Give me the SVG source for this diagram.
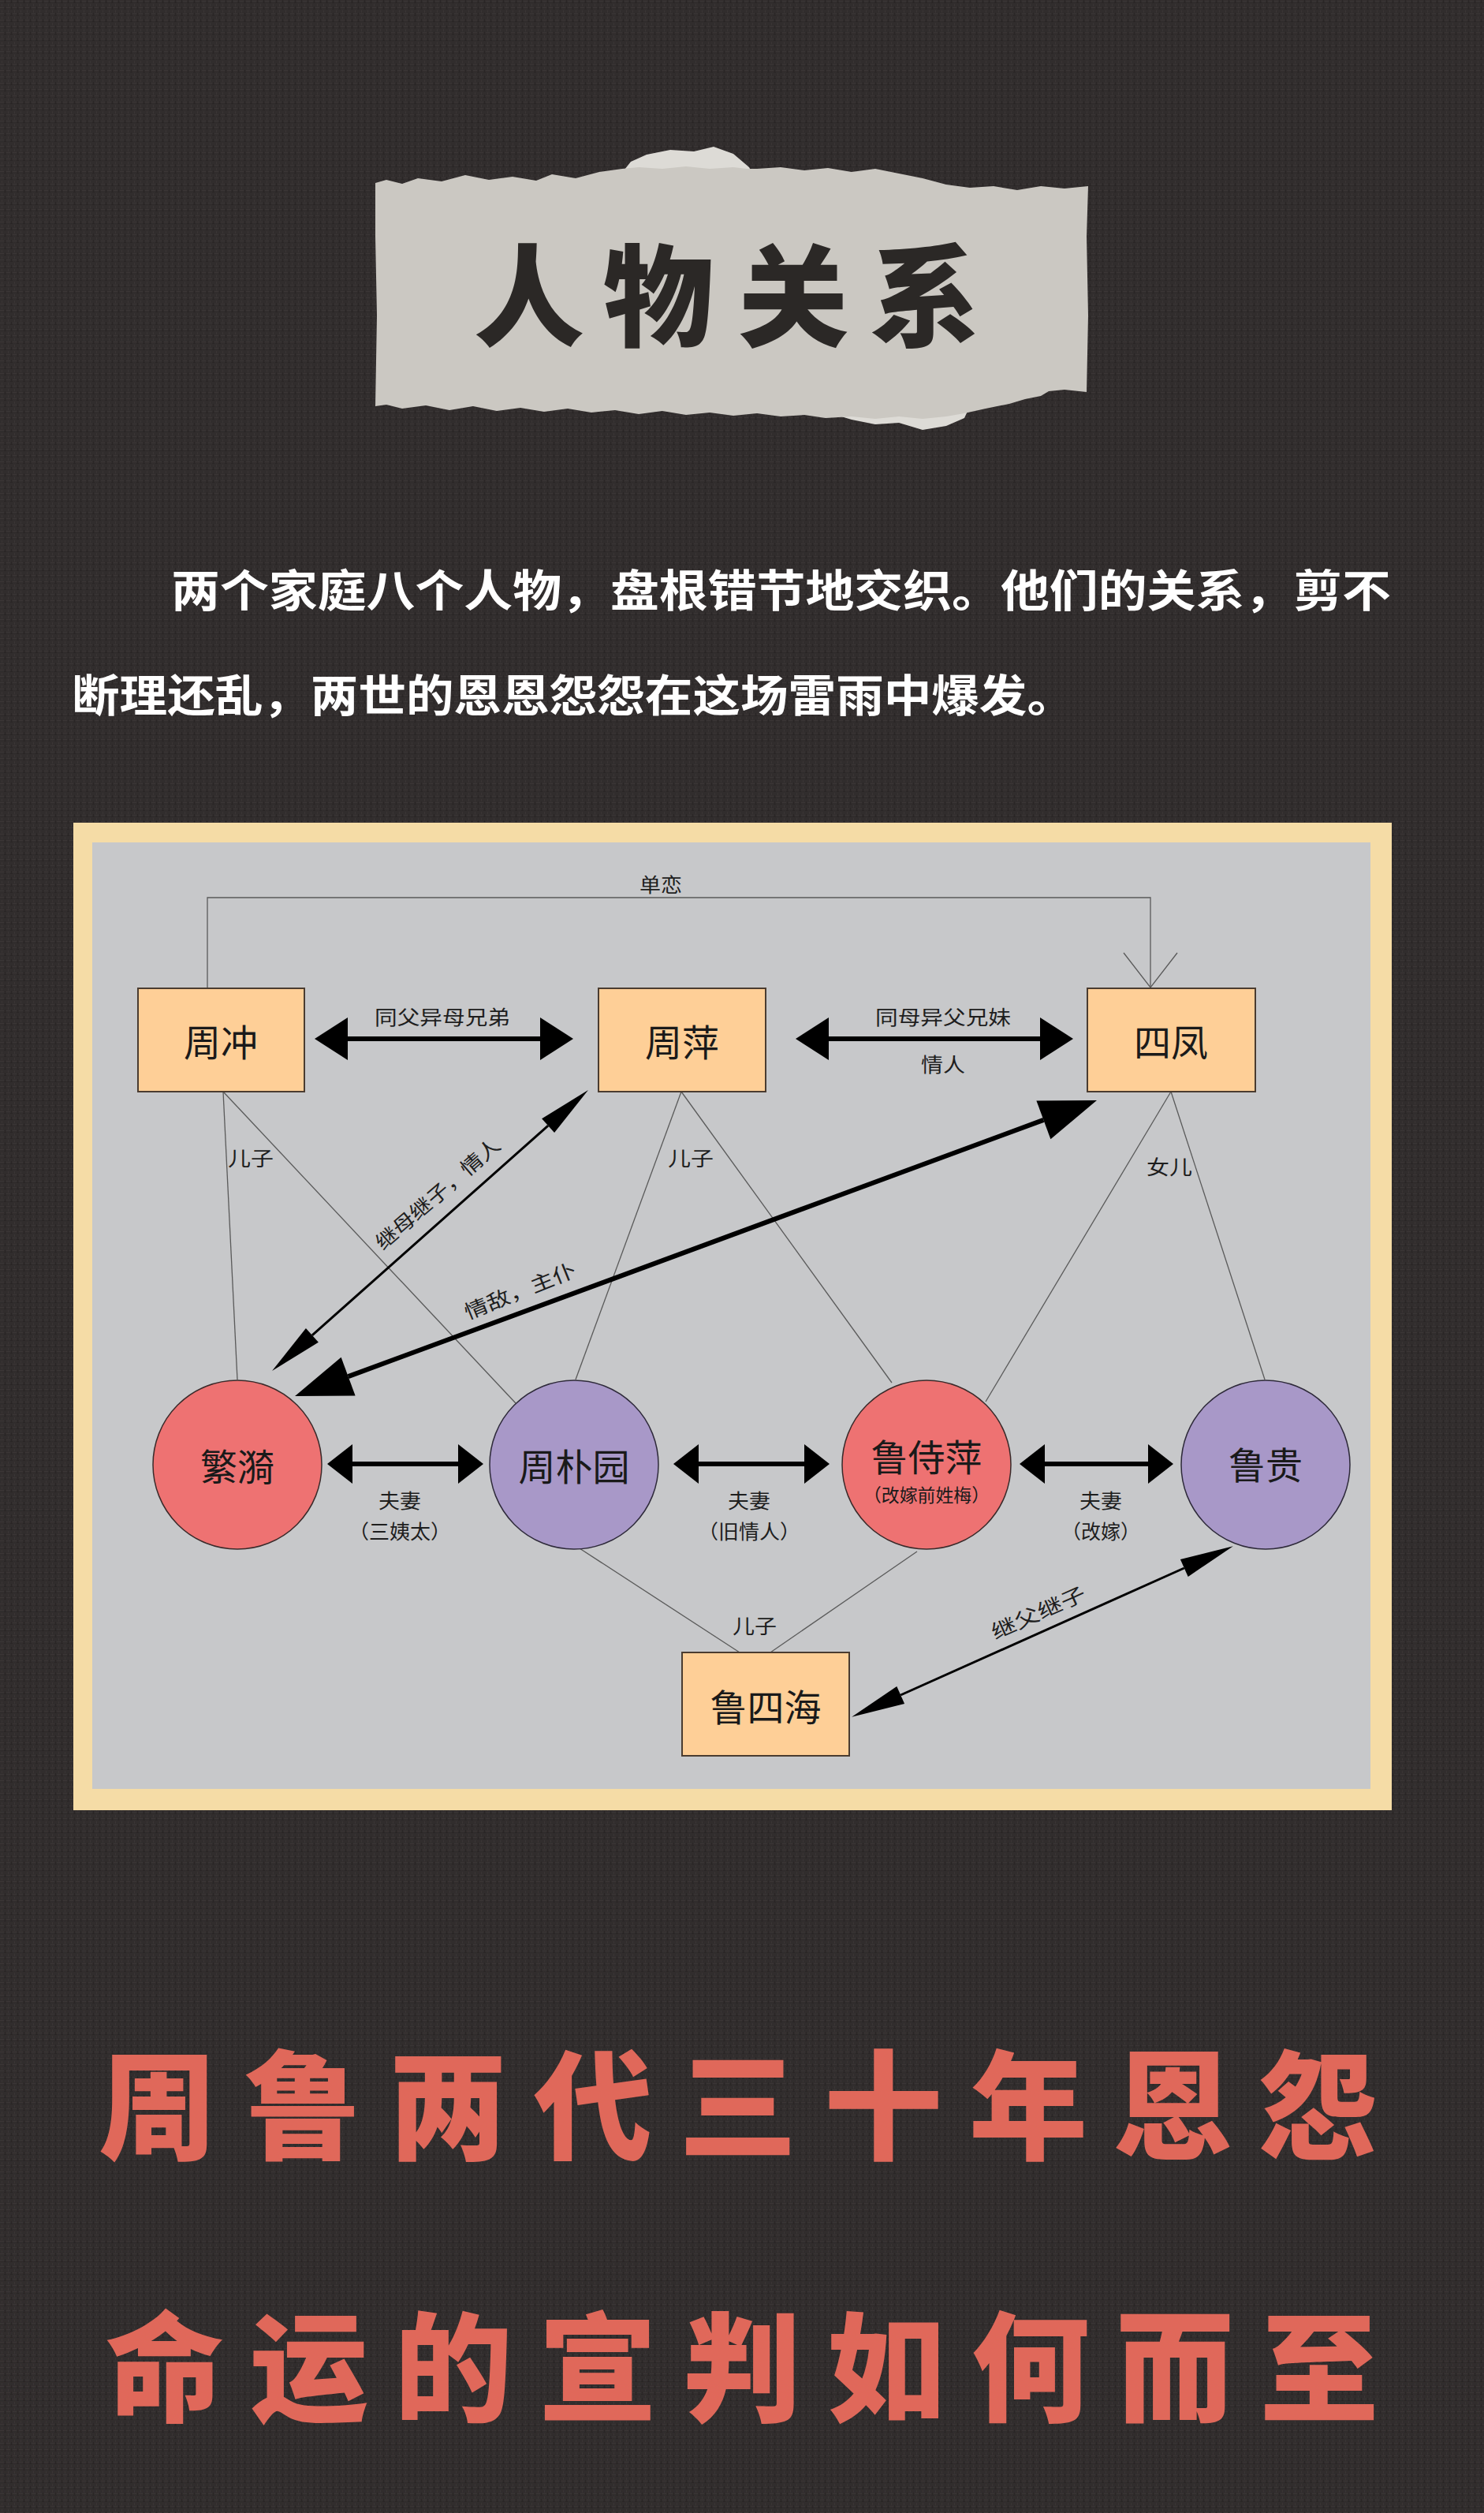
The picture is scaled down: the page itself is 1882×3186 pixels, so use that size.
<svg xmlns="http://www.w3.org/2000/svg" width="1882" height="3186" viewBox="0 0 1882 3186">
<defs>
<style>
.cjk{font-family:"Noto Sans CJK SC","Noto Sans",sans-serif;}
.bx{fill:#fecf97;stroke:#4a3c30;stroke-width:2;}
.red{fill:#ee7272;stroke:#3a2a2a;stroke-width:1.5;}
.pur{fill:#a898c8;stroke:#2e2a3a;stroke-width:1.5;}
.nl{font-size:47px;fill:#1a1a1a;text-anchor:middle;dominant-baseline:central;}
.sl{font-size:25px;fill:#1e1e1e;text-anchor:middle;dominant-baseline:central;}
.thin{fill:none;stroke:#5a5a5a;stroke-width:1.3;}
.arr{fill:none;stroke:#000;}
.big{font-size:150px;font-weight:900;fill:#e0685a;text-anchor:middle;dominant-baseline:central;}
.para{font-size:56px;font-weight:700;fill:#ffffff;dominant-baseline:central;}
</style>
<pattern id="weave" width="8" height="8" patternUnits="userSpaceOnUse">
<rect width="8" height="8" fill="#312d2d"/>
<rect x="0" y="1" width="5" height="1" fill="#3b3636"/>
<rect x="2" y="5" width="1" height="3" fill="#3a3535"/>
<rect x="5" y="3" width="3" height="1" fill="#292525"/>
<rect x="6" y="0" width="1" height="3" fill="#2a2626"/>
</pattern>
<marker id="hBig" viewBox="0 -27 42 54" refX="0" refY="0" markerWidth="42" markerHeight="54" markerUnits="userSpaceOnUse" orient="auto-start-reverse" overflow="visible"><path d="M0,-27 L42,0 L0,27 Z" fill="#000"/></marker>
<marker id="hMid" viewBox="0 -25 32 50" refX="0" refY="0" markerWidth="32" markerHeight="50" markerUnits="userSpaceOnUse" orient="auto-start-reverse" overflow="visible"><path d="M0,-25 L32,0 L0,25 Z" fill="#000"/></marker>
<marker id="hLong" viewBox="0 -26 72 52" refX="0" refY="0" markerWidth="72" markerHeight="52" markerUnits="userSpaceOnUse" orient="auto-start-reverse" overflow="visible"><path d="M0,-26 L72,0 L0,26 Z" fill="#000"/></marker>
<marker id="hThin" viewBox="0 -12 68 24" refX="0" refY="0" markerWidth="68" markerHeight="24" markerUnits="userSpaceOnUse" orient="auto-start-reverse" overflow="visible"><path d="M0,-12 L68,0 L0,12 Z" fill="#000"/></marker>
<marker id="hOpen" viewBox="-46 -38 48 76" refX="0" refY="0" markerWidth="48" markerHeight="76" markerUnits="userSpaceOnUse" orient="auto" overflow="visible"><path d="M-44,-34 L0,0 L-44,34" fill="none" stroke="#5a5a5a" stroke-width="1.3"/></marker>
</defs>

<rect width="1882" height="3186" fill="url(#weave)"/>

<g id="title">
<polygon fill="#dddbd6" points="780,230 800,205 820,196 850,190 880,192 905,186 930,195 950,212 960,230"/>
<polygon fill="#dddbd6" points="1040,520 1080,532 1110,538 1140,536 1170,545 1200,540 1223,530 1230,515"/>
<polygon fill="#cbc8c2" points="476,232 490,228 510,233 530,226 560,230 590,222 620,228 650,224 680,229 700,221 730,226 760,218 789,214 810,212 840,214 870,211 900,214 930,212 947,214 960,214 990,212 1020,216 1050,213 1080,218 1110,214 1140,220 1170,226 1200,234 1230,238 1260,236 1290,241 1320,236 1350,239 1380,236 1378,300 1380,400 1378,497 1350,494 1330,496 1320,502 1300,506 1280,512 1250,518 1223,524 1200,528 1170,531 1140,528 1110,531 1080,528 1047,530 1020,526 990,528 960,524 930,527 900,523 870,526 840,521 810,525 780,520 750,523 720,518 690,522 660,517 630,521 600,515 570,520 540,514 510,518 490,513 476,515 478,400 476,300"/>
<text class="cjk" x="671 835 1006 1173" y="367" font-size="140" font-weight="900" fill="#2b2826" text-anchor="middle" dominant-baseline="central">人物关系</text>
</g>

<g id="intro">
<text class="cjk para" x="217" y="744" textLength="1547" lengthAdjust="spacingAndGlyphs">两个家庭八个人物，盘根错节地交织。他们的关系，剪不</text>
<text class="cjk para" x="91" y="877" textLength="1272" lengthAdjust="spacingAndGlyphs">断理还乱，两世的恩恩怨怨在这场雷雨中爆发。</text>
</g>

<g id="frame">
<rect x="93" y="1043" width="1672" height="1252" fill="#f5dca6"/>
<rect x="117" y="1068" width="1621" height="1200" fill="#c7c8ca"/>
</g>

<g id="connectors">
<polyline class="thin" points="263,1253 263,1138 1459,1138 1459,1252" marker-end="url(#hOpen)"/>
<line class="thin" x1="283" y1="1384" x2="301" y2="1749"/>
<line class="thin" x1="283" y1="1384" x2="654" y2="1779"/>
<line class="thin" x1="864" y1="1384" x2="730" y2="1749"/>
<line class="thin" x1="864" y1="1384" x2="1131" y2="1753"/>
<line class="thin" x1="1485" y1="1384" x2="1250" y2="1777"/>
<line class="thin" x1="1485" y1="1384" x2="1604" y2="1749"/>
<line class="thin" x1="735" y1="1963" x2="938" y2="2095"/>
<line class="thin" x1="1163" y1="1967" x2="977" y2="2095"/>
<line class="arr" x1="441" y1="1317" x2="685" y2="1317" stroke-width="6" marker-start="url(#hBig)" marker-end="url(#hBig)"/>
<line class="arr" x1="1051" y1="1317" x2="1319" y2="1317" stroke-width="6" marker-start="url(#hBig)" marker-end="url(#hBig)"/>
<line class="arr" x1="447" y1="1856" x2="581" y2="1856" stroke-width="6" marker-start="url(#hMid)" marker-end="url(#hMid)"/>
<line class="arr" x1="886" y1="1856" x2="1020" y2="1856" stroke-width="6" marker-start="url(#hMid)" marker-end="url(#hMid)"/>
<line class="arr" x1="1325" y1="1856" x2="1456" y2="1856" stroke-width="6" marker-start="url(#hMid)" marker-end="url(#hMid)"/>
<line class="arr" x1="441.6" y1="1745.1" x2="1323.4" y2="1419.9" stroke-width="6" marker-start="url(#hLong)" marker-end="url(#hLong)"/>
<line class="arr" x1="395.9" y1="1692.9" x2="695.1" y2="1427.1" stroke-width="3" marker-start="url(#hThin)" marker-end="url(#hThin)"/>
<line class="arr" x1="1142.2" y1="2149" x2="1501.8" y2="1988" stroke-width="3" marker-start="url(#hThin)" marker-end="url(#hThin)"/>
<g class="cjk">
<text class="sl" x="838" y="1120" textLength="54" lengthAdjust="spacingAndGlyphs">单恋</text>
<text class="sl" x="561" y="1288" textLength="172" lengthAdjust="spacingAndGlyphs">同父异母兄弟</text>
<text class="sl" x="1196" y="1288" textLength="172" lengthAdjust="spacingAndGlyphs">同母异父兄妹</text>
<text class="sl" x="1196" y="1348" textLength="56" lengthAdjust="spacingAndGlyphs">情人</text>
<text class="sl" x="318" y="1467" textLength="58" lengthAdjust="spacingAndGlyphs">儿子</text>
<text class="sl" x="876" y="1467" textLength="58" lengthAdjust="spacingAndGlyphs">儿子</text>
<text class="sl" x="1483" y="1478" textLength="58" lengthAdjust="spacingAndGlyphs">女儿</text>
<text class="sl" transform="translate(554,1512) rotate(-41)" textLength="200" lengthAdjust="spacingAndGlyphs">继母继子，情人</text>
<text class="sl" transform="translate(659,1635) rotate(-22)" textLength="150" lengthAdjust="spacingAndGlyphs">情敌，主仆</text>
<text class="sl" x="507" y="1901" textLength="54" lengthAdjust="spacingAndGlyphs">夫妻</text>
<text class="sl" x="507" y="1940" textLength="130" lengthAdjust="spacingAndGlyphs">（三姨太）</text>
<text class="sl" x="950" y="1901" textLength="54" lengthAdjust="spacingAndGlyphs">夫妻</text>
<text class="sl" x="950" y="1940" textLength="130" lengthAdjust="spacingAndGlyphs">（旧情人）</text>
<text class="sl" x="1396" y="1901" textLength="54" lengthAdjust="spacingAndGlyphs">夫妻</text>
<text class="sl" x="1396" y="1940" textLength="100" lengthAdjust="spacingAndGlyphs">（改嫁）</text>
<text class="sl" x="957" y="2060" textLength="56" lengthAdjust="spacingAndGlyphs">儿子</text>
<text class="sl" transform="translate(1316,2043) rotate(-24)" textLength="128" lengthAdjust="spacingAndGlyphs">继父继子</text>
</g>
</g>

<g id="n-zhouchong" class="cjk"><rect class="bx" x="175" y="1253" width="211" height="131"/><text class="nl" x="280" y="1318">周冲</text></g>
<g id="n-zhouping" class="cjk"><rect class="bx" x="759" y="1253" width="212" height="131"/><text class="nl" x="865" y="1318">周萍</text></g>
<g id="n-sifeng" class="cjk"><rect class="bx" x="1379" y="1253" width="213" height="131"/><text class="nl" x="1485" y="1318">四凤</text></g>
<g id="n-fanyi" class="cjk"><circle class="red" cx="301" cy="1857" r="107"/><text class="nl" x="301" y="1856">繁漪</text></g>
<g id="n-zhoupuyuan" class="cjk"><circle class="pur" cx="728" cy="1857" r="107"/><text class="nl" x="728" y="1856">周朴园</text></g>
<g id="n-lushiping" class="cjk"><circle class="red" cx="1175" cy="1857" r="107"/><text class="nl" x="1175" y="1844">鲁侍萍</text><text x="1175" y="1894" font-size="23" fill="#1a1a1a" text-anchor="middle" dominant-baseline="central" textLength="160" lengthAdjust="spacingAndGlyphs">（改嫁前姓梅）</text></g>
<g id="n-lugui" class="cjk"><circle class="pur" cx="1605" cy="1857" r="107"/><text class="nl" x="1605" y="1854">鲁贵</text></g>
<g id="n-lusihai" class="cjk"><rect class="bx" x="865" y="2095" width="212" height="131"/><text class="nl" x="971" y="2161">鲁四海</text></g>

<g id="slogan" class="cjk">
<text class="big" x="200 384 568 752 936 1120 1304 1488 1672" y="2660">周鲁两代三十年恩怨</text>
<text class="big" x="209 392 575 758 941 1124 1307 1490 1673" y="2992">命运的宣判如何而至</text>
</g>
</svg>
